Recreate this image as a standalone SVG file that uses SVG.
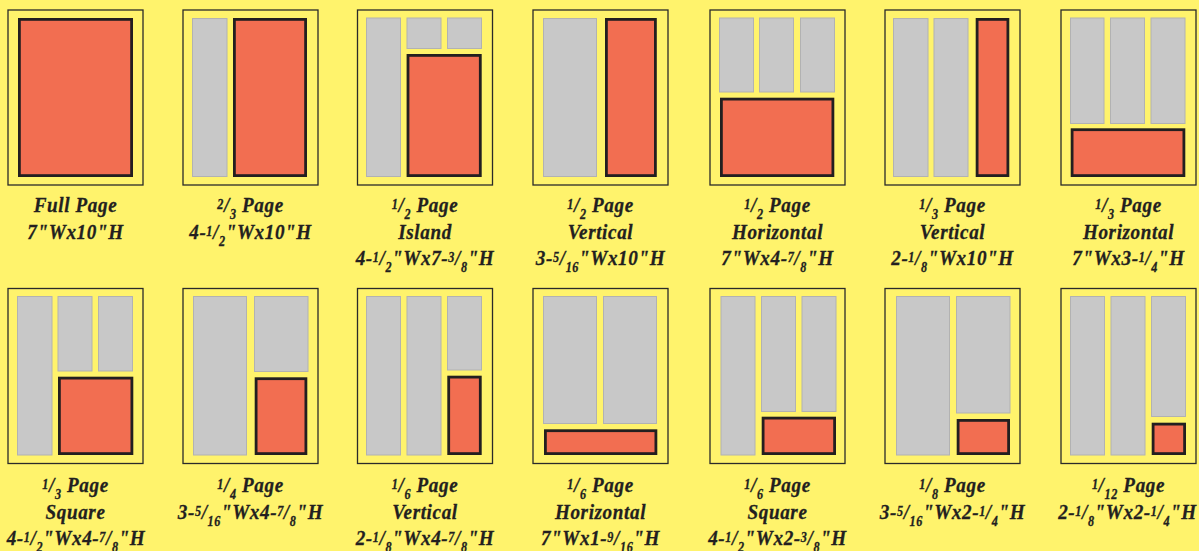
<svg xmlns="http://www.w3.org/2000/svg" width="1199" height="551" viewBox="0 0 1199 551">
<style>
.pg{fill:#FFF36C;stroke:#2A2A2A;stroke-width:1.3}
.gr{fill:#C8C8C8;stroke:#B2B2B2;stroke-width:1}
.ad{fill:#F26E51;stroke:#231F20;stroke-width:2.8}
.lb{font-family:"Liberation Serif","Times New Roman",serif;font-weight:bold;font-style:italic;font-size:22px;fill:#231F20;text-anchor:middle;letter-spacing:0.7px;stroke:#231F20;stroke-width:0.3}
.f{font-size:14px}
</style>
<rect x="0" y="0" width="1199" height="551" fill="#FFF36C"/>

<!-- Row 1 -->
<g id="full-page">
<rect class="pg" x="8" y="10" width="135" height="175"/>
<rect class="ad" x="19.4" y="19.4" width="112.2" height="156.2"/>
<text class="lb" transform="translate(75.5,212) scale(0.87,1)">Full Page</text>
<text class="lb" transform="translate(75.5,238.5) scale(0.87,1)">7"Wx10"H</text>
</g>

<g id="two-thirds-page">
<rect class="pg" x="183" y="10" width="135" height="175"/>
<rect class="gr" x="192.5" y="18.5" width="34.5" height="158"/>
<rect class="ad" x="234.4" y="19.4" width="71.2" height="156.2"/>
<text class="lb" transform="translate(250.5,212) scale(0.87,1)"><tspan class="f" dy="-3">2</tspan><tspan dy="3">/</tspan><tspan class="f" dy="7">3</tspan><tspan dy="-7"> Page</tspan></text>
<text class="lb" transform="translate(250.5,238.5) scale(0.87,1)">4-<tspan class="f" dy="-3">1</tspan><tspan dy="3">/</tspan><tspan class="f" dy="7">2</tspan><tspan dy="-7">"Wx10"H</tspan></text>
</g>

<g id="half-page-island">
<rect class="pg" x="357.5" y="10" width="135" height="175"/>
<rect class="gr" x="366.5" y="18" width="34" height="158.5"/>
<rect class="gr" x="407" y="18" width="34" height="30.5"/>
<rect class="gr" x="447.5" y="18" width="34" height="30.5"/>
<rect class="ad" x="408" y="55.4" width="72.3" height="120.2"/>
<text class="lb" transform="translate(425,212) scale(0.87,1)"><tspan class="f" dy="-3">1</tspan><tspan dy="3">/</tspan><tspan class="f" dy="7">2</tspan><tspan dy="-7"> Page</tspan></text>
<text class="lb" transform="translate(425,238.5) scale(0.87,1)">Island</text>
<text class="lb" transform="translate(425,265) scale(0.87,1)">4-<tspan class="f" dy="-3">1</tspan><tspan dy="3">/</tspan><tspan class="f" dy="7">2</tspan><tspan dy="-7">"Wx7-</tspan><tspan class="f" dy="-3">3</tspan><tspan dy="3">/</tspan><tspan class="f" dy="7">8</tspan><tspan dy="-7">"H</tspan></text>
</g>

<g id="half-page-vertical">
<rect class="pg" x="533" y="10" width="135" height="175"/>
<rect class="gr" x="543.5" y="18.5" width="53" height="158"/>
<rect class="ad" x="606.4" y="19.4" width="49" height="156.2"/>
<text class="lb" transform="translate(600.5,212) scale(0.87,1)"><tspan class="f" dy="-3">1</tspan><tspan dy="3">/</tspan><tspan class="f" dy="7">2</tspan><tspan dy="-7"> Page</tspan></text>
<text class="lb" transform="translate(600.5,238.5) scale(0.87,1)">Vertical</text>
<text class="lb" transform="translate(600.5,265) scale(0.87,1)">3-<tspan class="f" dy="-3">5</tspan><tspan dy="3">/</tspan><tspan class="f" dy="7">16</tspan><tspan dy="-7">"Wx10"H</tspan></text>
</g>

<g id="half-page-horizontal">
<rect class="pg" x="710" y="10" width="135" height="175"/>
<rect class="gr" x="719.5" y="18" width="34" height="74"/>
<rect class="gr" x="759.5" y="18" width="34" height="74"/>
<rect class="gr" x="800.5" y="18" width="34" height="74"/>
<rect class="ad" x="721.4" y="99.1" width="111.5" height="76.5"/>
<text class="lb" transform="translate(777.5,212) scale(0.87,1)"><tspan class="f" dy="-3">1</tspan><tspan dy="3">/</tspan><tspan class="f" dy="7">2</tspan><tspan dy="-7"> Page</tspan></text>
<text class="lb" transform="translate(777.5,238.5) scale(0.87,1)">Horizontal</text>
<text class="lb" transform="translate(777.5,265) scale(0.87,1)">7"Wx4-<tspan class="f" dy="-3">7</tspan><tspan dy="3">/</tspan><tspan class="f" dy="7">8</tspan><tspan dy="-7">"H</tspan></text>
</g>

<g id="third-page-vertical">
<rect class="pg" x="885" y="10" width="135" height="175"/>
<rect class="gr" x="893.5" y="18.5" width="34.5" height="158"/>
<rect class="gr" x="934" y="18.5" width="34" height="158"/>
<rect class="ad" x="977.1" y="19.4" width="30.8" height="156.2"/>
<text class="lb" transform="translate(952.5,212) scale(0.87,1)"><tspan class="f" dy="-3">1</tspan><tspan dy="3">/</tspan><tspan class="f" dy="7">3</tspan><tspan dy="-7"> Page</tspan></text>
<text class="lb" transform="translate(952.5,238.5) scale(0.87,1)">Vertical</text>
<text class="lb" transform="translate(952.5,265) scale(0.87,1)">2-<tspan class="f" dy="-3">1</tspan><tspan dy="3">/</tspan><tspan class="f" dy="7">8</tspan><tspan dy="-7">"Wx10"H</tspan></text>
</g>

<g id="third-page-horizontal">
<rect class="pg" x="1061" y="10" width="135" height="175"/>
<rect class="gr" x="1070.5" y="18" width="33.5" height="105.5"/>
<rect class="gr" x="1110.5" y="18" width="34" height="105.5"/>
<rect class="gr" x="1151" y="18" width="34" height="105.5"/>
<rect class="ad" x="1072.1" y="129.7" width="111.8" height="45.9"/>
<text class="lb" transform="translate(1128.5,212) scale(0.87,1)"><tspan class="f" dy="-3">1</tspan><tspan dy="3">/</tspan><tspan class="f" dy="7">3</tspan><tspan dy="-7"> Page</tspan></text>
<text class="lb" transform="translate(1128.5,238.5) scale(0.87,1)">Horizontal</text>
<text class="lb" transform="translate(1128.5,265) scale(0.87,1)">7"Wx3-<tspan class="f" dy="-3">1</tspan><tspan dy="3">/</tspan><tspan class="f" dy="7">4</tspan><tspan dy="-7">"H</tspan></text>
</g>

<!-- Row 2 -->
<g id="third-page-square">
<rect class="pg" x="8" y="288.5" width="135" height="175"/>
<rect class="gr" x="17.5" y="296.5" width="34.5" height="158.5"/>
<rect class="gr" x="58" y="296.5" width="34" height="74.5"/>
<rect class="gr" x="98.5" y="296.5" width="34" height="74.5"/>
<rect class="ad" x="59.4" y="378.1" width="72.5" height="75.5"/>
<text class="lb" transform="translate(75.5,492) scale(0.87,1)"><tspan class="f" dy="-3">1</tspan><tspan dy="3">/</tspan><tspan class="f" dy="7">3</tspan><tspan dy="-7"> Page</tspan></text>
<text class="lb" transform="translate(75.5,518.5) scale(0.87,1)">Square</text>
<text class="lb" transform="translate(76,545) scale(0.87,1)">4-<tspan class="f" dy="-3">1</tspan><tspan dy="3">/</tspan><tspan class="f" dy="7">2</tspan><tspan dy="-7">"Wx4-</tspan><tspan class="f" dy="-3">7</tspan><tspan dy="3">/</tspan><tspan class="f" dy="7">8</tspan><tspan dy="-7">"H</tspan></text>
</g>

<g id="quarter-page">
<rect class="pg" x="183" y="288.5" width="135" height="175"/>
<rect class="gr" x="193.5" y="296.5" width="53" height="158.5"/>
<rect class="gr" x="254.5" y="296.5" width="53.5" height="75"/>
<rect class="ad" x="256.1" y="378.7" width="49.8" height="74.9"/>
<text class="lb" transform="translate(250.5,492) scale(0.87,1)"><tspan class="f" dy="-3">1</tspan><tspan dy="3">/</tspan><tspan class="f" dy="7">4</tspan><tspan dy="-7"> Page</tspan></text>
<text class="lb" transform="translate(250.5,518.5) scale(0.87,1)">3-<tspan class="f" dy="-3">5</tspan><tspan dy="3">/</tspan><tspan class="f" dy="7">16</tspan><tspan dy="-7">"Wx4-</tspan><tspan class="f" dy="-3">7</tspan><tspan dy="3">/</tspan><tspan class="f" dy="7">8</tspan><tspan dy="-7">"H</tspan></text>
</g>

<g id="sixth-page-vertical">
<rect class="pg" x="357.5" y="288.5" width="135" height="175"/>
<rect class="gr" x="366.5" y="296.5" width="34" height="158.5"/>
<rect class="gr" x="407" y="296.5" width="34" height="158.5"/>
<rect class="gr" x="447.5" y="296.5" width="34" height="73.5"/>
<rect class="ad" x="448.7" y="377.1" width="31.6" height="76.5"/>
<text class="lb" transform="translate(425,492) scale(0.87,1)"><tspan class="f" dy="-3">1</tspan><tspan dy="3">/</tspan><tspan class="f" dy="7">6</tspan><tspan dy="-7"> Page</tspan></text>
<text class="lb" transform="translate(425,518.5) scale(0.87,1)">Vertical</text>
<text class="lb" transform="translate(425,545) scale(0.87,1)">2-<tspan class="f" dy="-3">1</tspan><tspan dy="3">/</tspan><tspan class="f" dy="7">8</tspan><tspan dy="-7">"Wx4-</tspan><tspan class="f" dy="-3">7</tspan><tspan dy="3">/</tspan><tspan class="f" dy="7">8</tspan><tspan dy="-7">"H</tspan></text>
</g>

<g id="sixth-page-horizontal">
<rect class="pg" x="533" y="288.5" width="135" height="175"/>
<rect class="gr" x="543.5" y="296.5" width="53" height="127"/>
<rect class="gr" x="603.5" y="296.5" width="53" height="127"/>
<rect class="ad" x="545.4" y="430.7" width="110.5" height="22.9"/>
<text class="lb" transform="translate(600.5,492) scale(0.87,1)"><tspan class="f" dy="-3">1</tspan><tspan dy="3">/</tspan><tspan class="f" dy="7">6</tspan><tspan dy="-7"> Page</tspan></text>
<text class="lb" transform="translate(600.5,518.5) scale(0.87,1)">Horizontal</text>
<text class="lb" transform="translate(600.5,545) scale(0.87,1)">7"Wx1-<tspan class="f" dy="-3">9</tspan><tspan dy="3">/</tspan><tspan class="f" dy="7">16</tspan><tspan dy="-7">"H</tspan></text>
</g>

<g id="sixth-page-square">
<rect class="pg" x="710" y="288.5" width="135" height="175"/>
<rect class="gr" x="721" y="296.5" width="34" height="158.5"/>
<rect class="gr" x="761.5" y="296.5" width="34" height="115"/>
<rect class="gr" x="802" y="296.5" width="34" height="115"/>
<rect class="ad" x="763.1" y="418.1" width="71.5" height="35.5"/>
<text class="lb" transform="translate(777.5,492) scale(0.87,1)"><tspan class="f" dy="-3">1</tspan><tspan dy="3">/</tspan><tspan class="f" dy="7">6</tspan><tspan dy="-7"> Page</tspan></text>
<text class="lb" transform="translate(777.5,518.5) scale(0.87,1)">Square</text>
<text class="lb" transform="translate(777.5,545) scale(0.87,1)">4-<tspan class="f" dy="-3">1</tspan><tspan dy="3">/</tspan><tspan class="f" dy="7">2</tspan><tspan dy="-7">"Wx2-</tspan><tspan class="f" dy="-3">3</tspan><tspan dy="3">/</tspan><tspan class="f" dy="7">8</tspan><tspan dy="-7">"H</tspan></text>
</g>

<g id="eighth-page">
<rect class="pg" x="885" y="288.5" width="135" height="175"/>
<rect class="gr" x="896.5" y="296.5" width="53" height="158.5"/>
<rect class="gr" x="956.5" y="296.5" width="53.5" height="116.5"/>
<rect class="ad" x="958.1" y="420.4" width="50.5" height="33.2"/>
<text class="lb" transform="translate(952.5,492) scale(0.87,1)"><tspan class="f" dy="-3">1</tspan><tspan dy="3">/</tspan><tspan class="f" dy="7">8</tspan><tspan dy="-7"> Page</tspan></text>
<text class="lb" transform="translate(952.5,518.5) scale(0.87,1)">3-<tspan class="f" dy="-3">5</tspan><tspan dy="3">/</tspan><tspan class="f" dy="7">16</tspan><tspan dy="-7">"Wx2-</tspan><tspan class="f" dy="-3">1</tspan><tspan dy="3">/</tspan><tspan class="f" dy="7">4</tspan><tspan dy="-7">"H</tspan></text>
</g>

<g id="twelfth-page">
<rect class="pg" x="1061" y="288.5" width="135" height="175"/>
<rect class="gr" x="1070.5" y="296.5" width="34" height="158.5"/>
<rect class="gr" x="1111" y="296.5" width="34" height="158.5"/>
<rect class="gr" x="1151.5" y="296.5" width="34" height="120"/>
<rect class="ad" x="1153.1" y="424.1" width="31.5" height="29.5"/>
<text class="lb" transform="translate(1128.5,492) scale(0.87,1)"><tspan class="f" dy="-3">1</tspan><tspan dy="3">/</tspan><tspan class="f" dy="7">12</tspan><tspan dy="-7"> Page</tspan></text>
<text class="lb" transform="translate(1127.5,518.5) scale(0.87,1)">2-<tspan class="f" dy="-3">1</tspan><tspan dy="3">/</tspan><tspan class="f" dy="7">8</tspan><tspan dy="-7">"Wx2-</tspan><tspan class="f" dy="-3">1</tspan><tspan dy="3">/</tspan><tspan class="f" dy="7">4</tspan><tspan dy="-7">"H</tspan></text>
</g>

<g id="connectors"></g>
</svg>
